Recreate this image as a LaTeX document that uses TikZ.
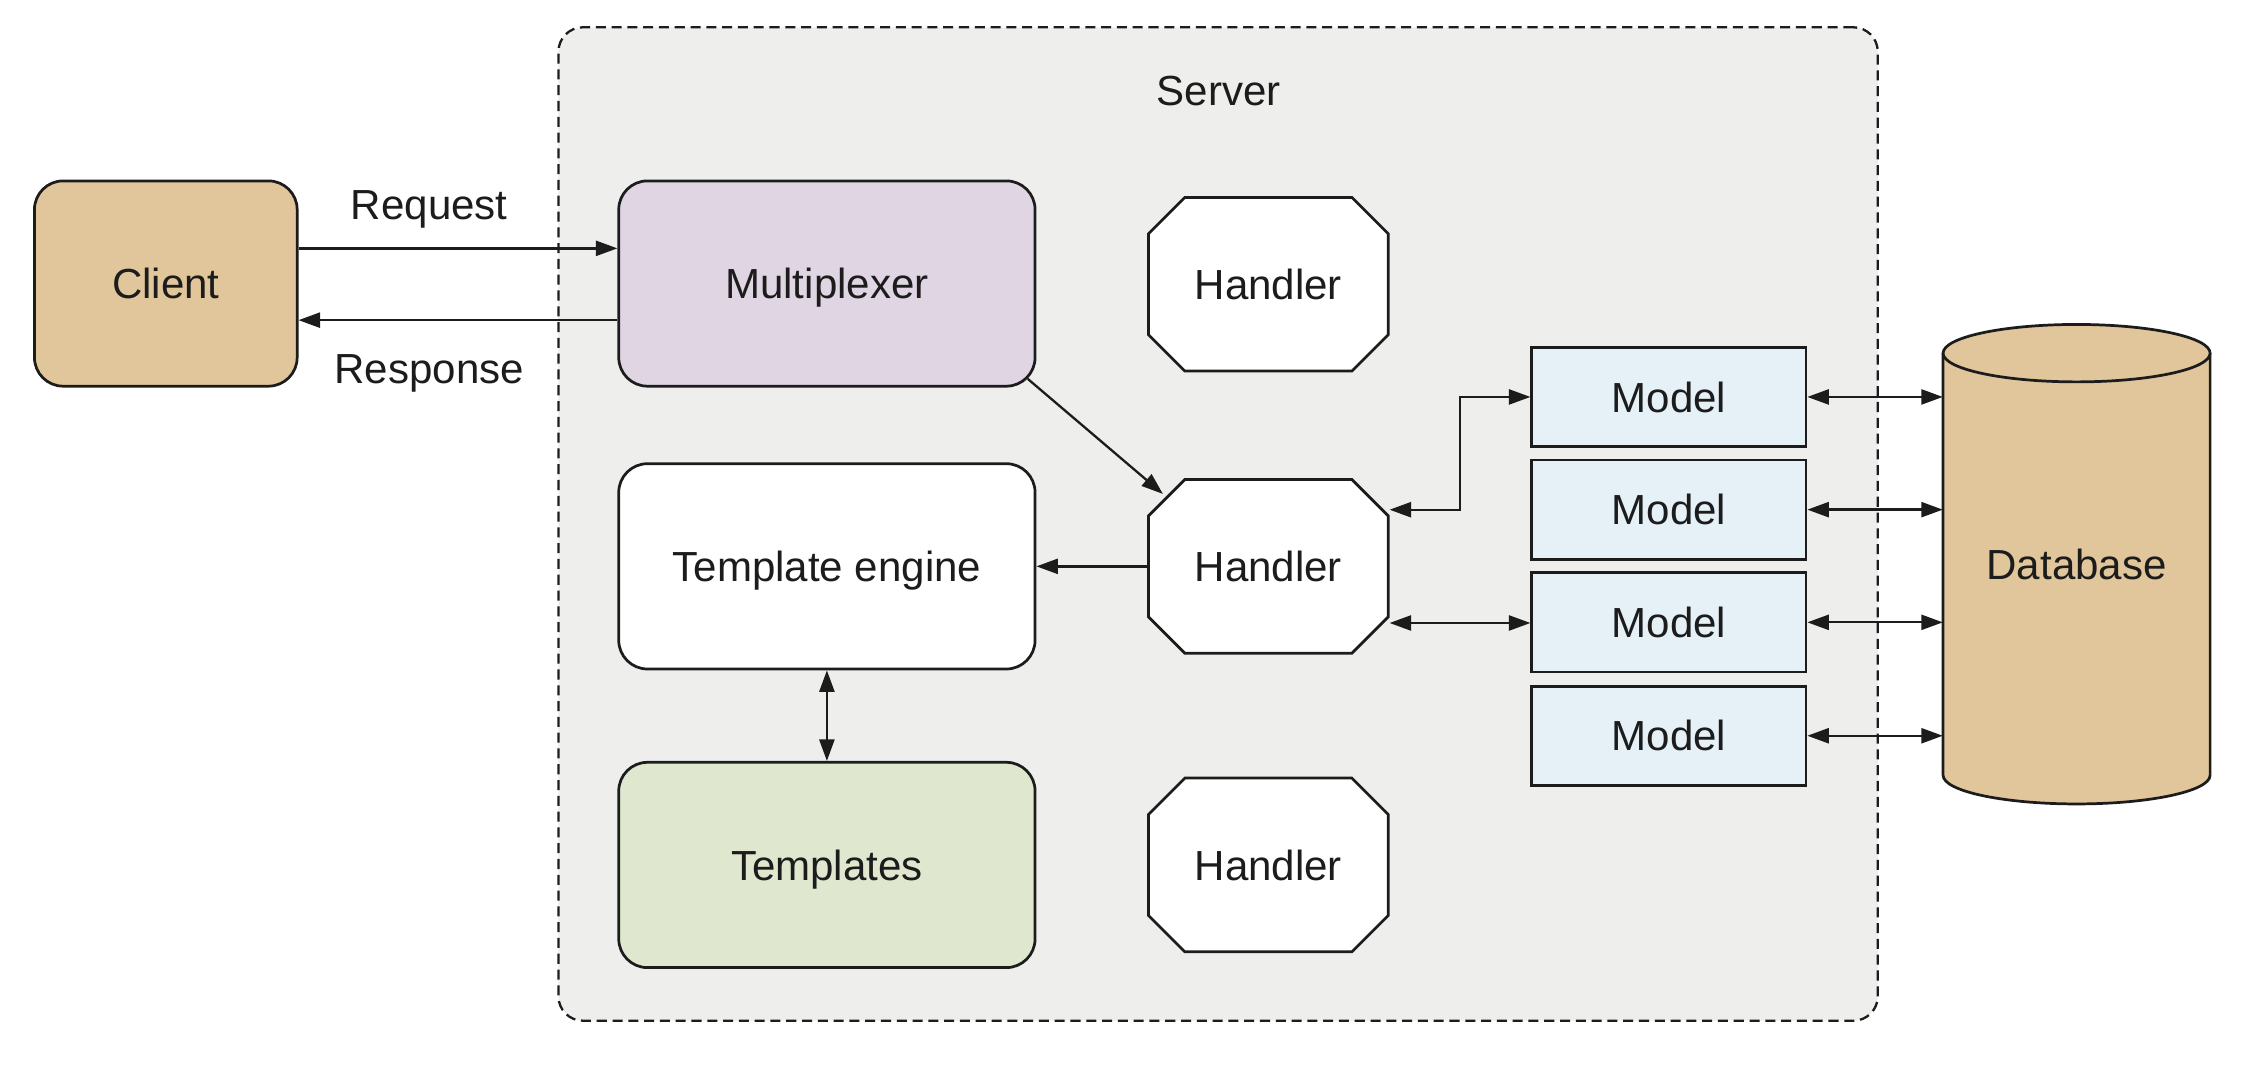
\documentclass[tikz,border=0pt]{standalone}
\usepackage{fontspec}
\setmainfont{Liberation Sans}
\usetikzlibrary{arrows.meta,shapes.misc,calc}

\definecolor{ink}{HTML}{1C1C1C}
\definecolor{servergray}{HTML}{EEEEED}
\definecolor{tan}{HTML}{E1C69C}
\definecolor{lavender}{HTML}{E0D5E2}
\definecolor{sage}{HTML}{DFE8CF}
\definecolor{paleblue}{HTML}{E5F1F7}

\tikzset{
  every node/.style={text=ink, text depth=0pt},
  roundbox/.style={draw=ink, line width=1.9pt, rounded corners=20pt,
    minimum width=290pt, minimum height=143pt},
  handlerbox/.style={chamfered rectangle, chamfered rectangle sep=14.7pt,
    draw=ink, line width=1.9pt, fill=white, inner sep=0pt,
    minimum width=167pt, minimum height=121pt},
  modelbox/.style={draw=ink, line width=1.9pt, fill=paleblue,
    minimum width=191pt, minimum height=69pt},
  tip/.tip={Triangle[length=15pt,width=10.5pt]},
  conn/.style={draw=ink, line width=1.6pt, -tip},
  twoway/.style={draw=ink, line width=1.6pt, tip-tip},
}

\begin{document}
\begin{tikzpicture}[x=1pt, y=-1pt, font=\fontsize{29.3}{35}\selectfont]
\useasboundingbox (0,0) rectangle (1568,748);

% server area
\node[draw=ink, line width=1.6pt, dash pattern=on 7pt off 4pt, fill=servergray,
      rounded corners=17pt, minimum width=919pt, minimum height=692pt]
      (server) at (848.5,365) {};
\node (serverlabel) at (849,63) {Server};

% client side
\node[roundbox, fill=tan, minimum width=183pt] (client) at (115.5,197.5) {Client};
\node (reqlabel) at (299,143) {Request};
\node (resplabel) at (299,257) {Response};

% server components
\node[roundbox, fill=lavender] (mux) at (576,197.5) {Multiplexer};
\node[roundbox, fill=white] (engine) at (576,394.5) {Template engine};
\node[roundbox, fill=sage] (templates) at (576,602.5) {Templates};

\node[handlerbox] (h1) at (883.5,198) {Handler};
\node[handlerbox] (h2) at (883.5,394.5) {Handler};
\node[handlerbox] (h3) at (883.5,602.5) {Handler};

\node[modelbox] (m1) at (1162.5,276.5) {Model};
\node[modelbox] (m2) at (1162.5,355) {Model};
\node[modelbox] (m3) at (1162.5,433.5) {Model};
\node[modelbox] (m4) at (1162.5,512.5) {Model};

% database cylinder
\filldraw[fill=tan, draw=ink, line width=1.9pt]
  (1353.5,246) -- (1353.5,540)
  arc[start angle=180, end angle=0, x radius=93, y radius=20]
  -- (1539.5,246);
\filldraw[fill=tan, draw=ink, line width=1.9pt]
  (1446.5,246) ellipse [x radius=93, y radius=20];
\node[minimum width=186pt, minimum height=334pt, inner sep=0pt] (db) at (1446.5,393) {Database};

% connectors
\draw[conn] ([yshift=24.5pt]client.east) -- ([yshift=24.5pt]mux.west);
\draw[conn] ([yshift=-25.5pt]mux.west) -- ([yshift=-25.5pt]client.east);

\coordinate (muxcorner) at ($(mux.south east)+(-6,-6)$);
\coordinate (h2nw) at ($(h2.west |- h2.north)+(11,11)$);
\draw[conn] (muxcorner) -- (h2nw);

\draw[conn] (h2.west) -- (engine.east);
\draw[twoway] (engine.south) -- (templates.north);

\coordinate (h2ne) at ($(h2.east |- h2.north)+(0,22)$);
\coordinate (h2se) at ($(h2.east |- h2.south)+(0,-22)$);
\draw[twoway] (h2ne) -| ($(h2ne)!0.5!(m1.west)$) |- (m1.west);
\draw[twoway] (h2se) -- (h2se -| m3.west);

\foreach \m in {m1,m2,m3,m4}
  \draw[twoway] (\m.east) -- (\m.east -| db.west);
\end{tikzpicture}
\end{document}
